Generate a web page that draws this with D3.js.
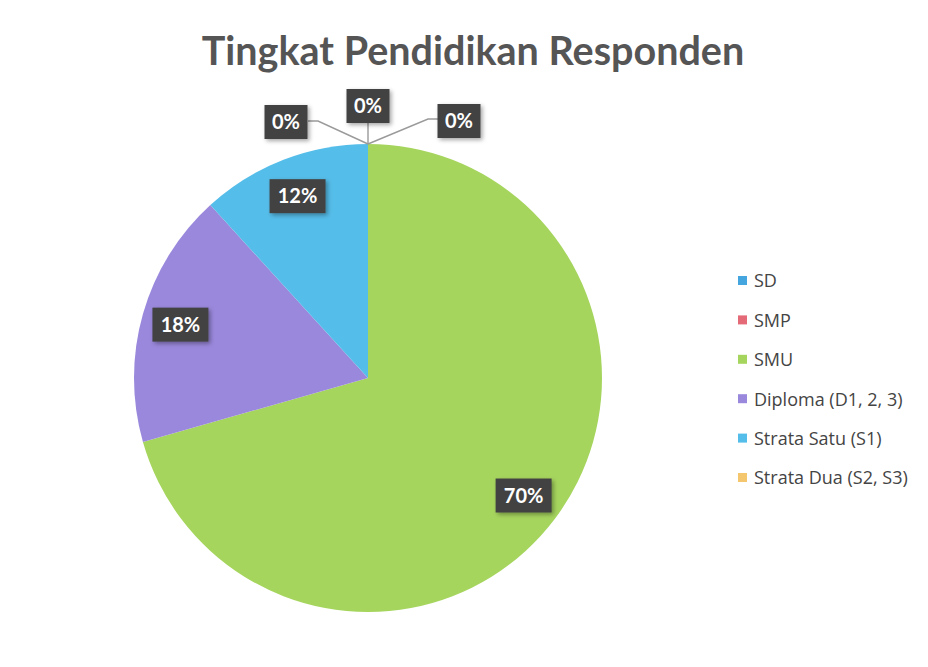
<!DOCTYPE html>
<html>
<head>
<meta charset="utf-8">
<script src="https://cdn.jsdelivr.net/npm/d3@7"></script>
<style>
  html, body { margin: 0; padding: 0; background: #ffffff; }
  svg { display: block; }
</style>
</head>
<body>
<svg id="chart" width="928" height="667"></svg>
<script>
const title = "Tingkat Pendidikan Responden";
const categories = ["SD", "SMP", "SMU", "Diploma (D1, 2, 3)", "Strata Satu (S1)", "Strata Dua (S2, S3)"];
const values = [0, 0, 60, 15, 10, 0];
const labels = ["0%", "0%", "70%", "18%", "12%", "0%"];
const colors = ["#45a6df", "#e46a78", "#a6d55e", "#9a88dc", "#55bde9", "#f4c66e"];

const svg = d3.select("#chart");
const W = 928, H = 667;
const cx = 368, cy = 378, R = 234;
const FONT = "Lato, 'Open Sans', 'Liberation Sans', sans-serif";
const LFONT = "'Open Sans', Lato, 'Liberation Sans', sans-serif";

svg.append("rect").attr("width", W).attr("height", H).attr("fill", "#ffffff");

const defs = svg.append("defs");
const f = defs.append("filter").attr("id", "shadow").attr("x", "-20%").attr("y", "-20%").attr("width", "150%").attr("height", "160%");
f.append("feDropShadow").attr("dx", 2).attr("dy", 2).attr("stdDeviation", 2).attr("flood-color", "#000").attr("flood-opacity", 0.35);

svg.append("text")
  .attr("x", 473).attr("y", 65)
  .attr("text-anchor", "middle")
  .attr("font-family", FONT).attr("font-weight", "bold")
  .attr("font-size", 39.5).attr("fill", "#555555")
  .text(title);

const pie = d3.pie().sort(null).value(d => d).startAngle(0).endAngle(2 * Math.PI);
const arcs = pie(values);
const arc = d3.arc().innerRadius(0).outerRadius(R);
const labelArc = d3.arc().innerRadius(195).outerRadius(195);

const g = svg.append("g").attr("transform", `translate(${cx},${cy})`);
g.selectAll("path.slice").data(arcs).join("path")
  .attr("class", "slice")
  .attr("d", arc)
  .attr("fill", (d, i) => colors[i]);

// label positions
const zeroOffsets = {0: [-82, -256], 1: [0, -272], 5: [91, -257]};
const pos = arcs.map((d, i) => d.value === 0 ? zeroOffsets[i] : labelArc.centroid(d));

// leader lines for zero slices (all start at the top of the pie)
const leaders = {
  0: [[0, -R], [-50, -R - 23], [-60, -R - 23]],
  1: [[0, -R], [0, -R - 22]],
  5: [[0, -R], [60, -R - 25], [70, -R - 25]]
};
arcs.forEach((d, i) => {
  if (d.value === 0) {
    g.append("path")
      .attr("d", d3.line()(leaders[i]))
      .attr("fill", "none").attr("stroke", "#9a9a9a").attr("stroke-width", 1.4);
  }
});

const lg = g.selectAll("g.lbl").data(arcs).join("g")
  .attr("class", "lbl")
  .attr("transform", (d, i) => `translate(${pos[i][0]},${pos[i][1]})`);
lg.append("rect")
  .attr("x", (d, i) => labels[i].length > 2 ? -28 : -21.5)
  .attr("y", -17)
  .attr("width", (d, i) => labels[i].length > 2 ? 56 : 43)
  .attr("height", 34)
  .attr("fill", "#424242")
  .attr("filter", "url(#shadow)");
lg.append("text")
  .attr("text-anchor", "middle")
  .attr("dy", "0.36em")
  .attr("font-family", FONT).attr("font-weight", "bold")
  .attr("font-size", 20).attr("fill", "#ffffff")
  .text((d, i) => labels[i]);

// legend
const leg = svg.append("g").attr("transform", "translate(738,281)");
const items = leg.selectAll("g").data(categories).join("g")
  .attr("transform", (d, i) => `translate(0,${i * 39.4})`);
items.append("rect").attr("x", 0).attr("y", -5).attr("width", 9).attr("height", 9)
  .attr("fill", (d, i) => colors[i]);
items.append("text").attr("x", 16).attr("dy", "0.35em")
  .attr("font-family", LFONT).attr("font-size", 18).attr("fill", "#444444")
  .text(d => d);
</script>
</body>
</html>
